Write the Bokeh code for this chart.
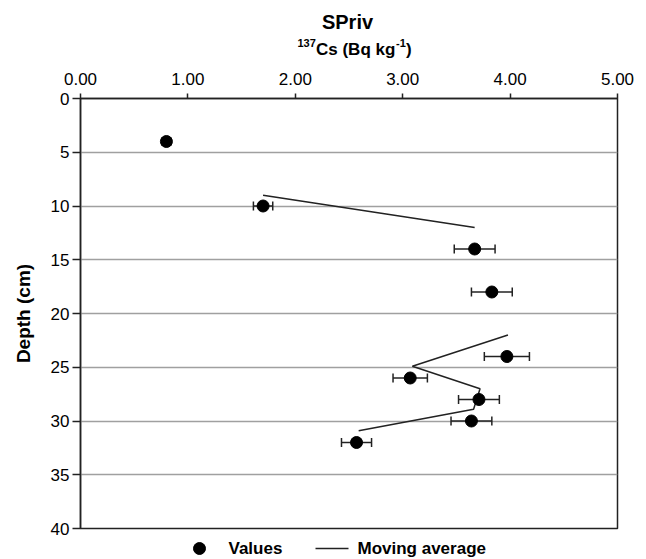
from bokeh.plotting import figure
from bokeh.layouts import column
from bokeh.models import (Range1d, ColumnDataSource, Whisker, TeeHead,
                          LinearAxis, FixedTicker, NumeralTickFormatter)
from bokeh.core.properties import value
from bokeh.embed import file_html
from bokeh.resources import INLINE
import numpy as np

# ---- data ----
depth = [4, 10, 14, 18, 24, 26, 28, 30, 32]
cs137 = [0.80, 1.70, 3.67, 3.83, 3.97, 3.07, 3.71, 3.64, 2.57]
cs_err = [0.04, 0.09, 0.19, 0.19, 0.21, 0.16, 0.19, 0.19, 0.14]
ma_depth = [9.0, 12.0, np.nan, 22.0, 24.9, 27.0, 28.9, 30.9]
ma_cs = [1.70, 3.67, np.nan, 3.98, 3.09, 3.72, 3.66, 2.59]
x_ticks = [0, 1, 2, 3, 4, 5]
y_ticks = [0, 5, 10, 15, 20, 25, 30, 35, 40]
title = "SPriv"
legend_labels = ["Values", "Moving average"]

FONT = "Liberation Sans"
W = 646
L, R = 80, 29
TOP_H = 60
MAIN_BOTTOM = 10
MAIN_H = (98 - TOP_H) + 430 + MAIN_BOTTOM
LEG_H = 559 - TOP_H - MAIN_H


def strip(height, y0):
    f = figure(width=W, height=height, output_backend="svg", toolbar_location=None,
               x_range=Range1d(L, W - R), y_range=Range1d(y0 + height, y0),
               x_axis_location=None, y_axis_location=None,
               min_border_left=L, min_border_right=R,
               min_border_top=0, min_border_bottom=0)
    f.outline_line_color = None
    f.grid.visible = False
    return f


# ---------- title strip (pixel coordinates of the page) ----------
t = strip(TOP_H, 0)
t.text(x=[347], y=[21], text=[title], text_font=value(FONT), text_font_style="bold",
       text_font_size="20px", text_align="center", text_baseline="middle", text_color="black")
x0 = 297
t.text(x=[x0], y=[42], text=["137"], text_font=value(FONT), text_font_style="bold",
       text_font_size="11px", text_align="left", text_baseline="middle", text_color="black")
t.text(x=[x0 + 18.5], y=[49], text=["Cs (Bq kg"], text_font=value(FONT), text_font_style="bold",
       text_font_size="17px", text_align="left", text_baseline="middle", text_color="black")
t.text(x=[x0 + 98.5], y=[42], text=["-1"], text_font=value(FONT), text_font_style="bold",
       text_font_size="11px", text_align="left", text_baseline="middle", text_color="black")
t.text(x=[x0 + 108.5], y=[49], text=[")"], text_font=value(FONT), text_font_style="bold",
       text_font_size="17px", text_align="left", text_baseline="middle", text_color="black")

# ---------- main plot ----------
p = figure(width=W, height=MAIN_H, output_backend="svg", toolbar_location=None,
           x_range=Range1d(0, 5), y_range=Range1d(40, 0),
           x_axis_location=None, y_axis_location="left",
           min_border_left=L, min_border_right=R, min_border_top=98 - TOP_H,
           min_border_bottom=MAIN_BOTTOM,
           background_fill_color="white", border_fill_color="white")
p.outline_line_color = "#222222"
p.outline_line_width = 1.5

xa = LinearAxis(ticker=FixedTicker(ticks=x_ticks), formatter=NumeralTickFormatter(format="0.00"))
xa.major_tick_out = 5
xa.major_tick_in = 0
xa.minor_tick_line_color = None
xa.axis_line_color = "#222222"
xa.axis_line_width = 1.5
xa.major_tick_line_color = "#222222"
xa.major_tick_line_width = 1.5
xa.major_label_text_font = FONT
xa.major_label_text_font_size = "17px"
xa.major_label_text_color = "black"
xa.major_label_standoff = 9
p.add_layout(xa, "above")

ya = p.yaxis[0]
ya.ticker = FixedTicker(ticks=y_ticks)
ya.major_tick_out = 8
ya.major_tick_in = 0
ya.minor_tick_line_color = None
ya.axis_line_color = "#222222"
ya.axis_line_width = 1.5
ya.major_tick_line_color = "#222222"
ya.major_tick_line_width = 1.5
ya.major_label_text_font = FONT
ya.major_label_text_font_size = "17px"
ya.major_label_text_color = "black"
ya.major_label_standoff = 3
ya.axis_label = "Depth (cm)"
ya.axis_label_text_font = FONT
ya.axis_label_text_font_style = "bold"
ya.axis_label_text_font_size = "19px"
ya.axis_label_text_color = "black"
ya.axis_label_standoff = 14

p.xgrid.visible = False
p.ygrid.ticker = FixedTicker(ticks=y_ticks)
p.ygrid.grid_line_color = "#a0a0a0"
p.ygrid.grid_line_width = 1.5

p.line(ma_cs, ma_depth, line_color="#222222", line_width=1.5)

src = ColumnDataSource(dict(depth=depth, x=cs137,
                            lo=[c - e for c, e in zip(cs137, cs_err)],
                            hi=[c + e for c, e in zip(cs137, cs_err)]))
wh = Whisker(source=src, base="depth", lower="lo", upper="hi", dimension="width",
             line_color="#222222", line_width=1.5,
             lower_head=TeeHead(size=9, line_color="#222222", line_width=1.5),
             upper_head=TeeHead(size=9, line_color="#222222", line_width=1.5))
p.add_layout(wh)
p.scatter("x", "depth", source=src, size=12, color="black")

# ---------- legend strip (pixel coordinates of the page) ----------
y_leg0 = TOP_H + MAIN_H
lg = strip(LEG_H, y_leg0)
ly = 548
lg.scatter(x=[199], y=[ly], size=12, color="black")
lg.line(x=[315, 348], y=[ly, ly], line_color="#222222", line_width=1.5)
lg.text(x=[228, 357], y=[ly, ly], text=legend_labels, text_font=value(FONT),
        text_font_style="bold", text_font_size="17px", text_align="left",
        text_baseline="middle", text_color="black")

layout = column(t, p, lg, spacing=0)
open("out.html", "w").write(file_html(layout, INLINE))
